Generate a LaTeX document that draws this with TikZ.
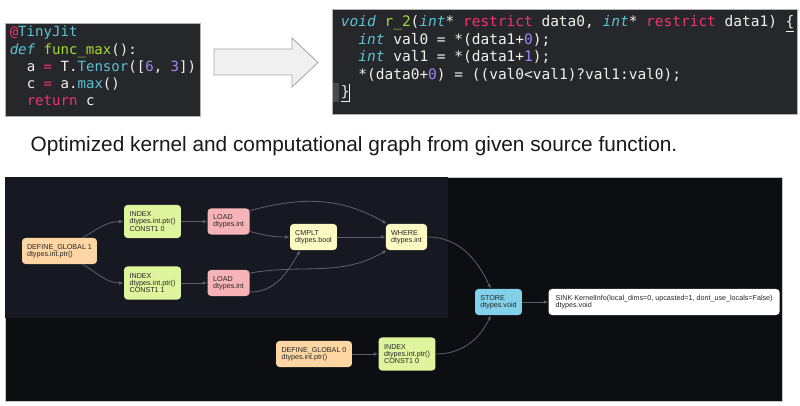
\documentclass[tikz,border=0pt]{standalone}
\usepackage{fontspec}
\setmainfont{Liberation Sans}
\newfontfamily\codefont{DejaVu Sans Mono}
\usepackage{xcolor}
\usepackage{tikz}
\usetikzlibrary{arrows.meta, positioning, calc}

\definecolor{codebg}{HTML}{26272B}
\definecolor{codefg}{HTML}{F2F2EC}
\definecolor{kwpink}{HTML}{F0336F}
\definecolor{tyteal}{HTML}{5BC3D3}
\definecolor{fngreen}{HTML}{A8D930}
\definecolor{numpurple}{HTML}{A484F5}
\definecolor{graphbg}{HTML}{0C0E12}
\definecolor{clusterbg}{HTML}{161921}
\definecolor{edgegray}{HTML}{5C5F68}
\definecolor{gpeach}{HTML}{FDD6A4}
\definecolor{glime}{HTML}{DEF59E}
\definecolor{grose}{HTML}{F6B4B8}
\definecolor{gcream}{HTML}{FCFAC2}
\definecolor{gsky}{HTML}{83D0EA}

\newcommand{\ckw}[1]{\textcolor{kwpink}{#1}}
\newcommand{\cty}[1]{\textcolor{tyteal}{\itshape #1}}
\newcommand{\cnm}[1]{\textcolor{tyteal}{#1}}
\newcommand{\cfn}[1]{\textcolor{fngreen}{#1}}
\newcommand{\cnum}[1]{\textcolor{numpurple}{#1}}

\begin{document}
\frenchspacing
\begin{tikzpicture}[
      x=0.025cm, y=-0.025cm,
      codeline/.style={anchor=base west, inner sep=0pt, text=codefg,
        font=\codefont\fontsize{#1}{12}\selectfont},
      codeline/.default=10,
      op/.style={rectangle, rounded corners=2.5pt, inner sep=0pt, align=left,
        text=black!85, font=\fontsize{5.1}{5.1}\selectfont},
      conn/.style={draw=edgegray, line width=0.6pt, -{Latex[length=3.2pt,width=2.6pt]}}
    ]
      \useasboundingbox (0,0) rectangle (800,406);

      % python source
      \filldraw[fill=codebg, draw=gray!60, line width=0.4pt] (5,23) rectangle (200,116);
      \node[codeline] (py1) at (9.5,37) {\ckw{@}\cnm{TinyJit}};
      \node[codeline] (py2) at (9.5,54.2) {\cty{def} \cfn{func\_max}():};
      \node[codeline] (py3) at (26.5,71.4) {a \ckw{=} T.\cnm{Tensor}([\cnum{6}, \cnum{3}])};
      \node[codeline] (py4) at (26.5,88.6) {c \ckw{=} a.\cnm{max}()};
      \node[codeline] (py5) at (26.5,105.8) {\ckw{return} c};

      % arrow
      \draw[fill=gray!12, draw=gray!70, line width=0.6pt]
        (214,49) -- (292,49) -- (292,38) -- (318,62.5) -- (292,87) -- (292,75) -- (214,75) -- cycle;

      % generated kernel
      \filldraw[fill=codebg, draw=gray!60, line width=0.4pt] (332.7,9) rectangle (797,114);
      \fill[gray!40!codebg] (333,83) rectangle (338.5,102);
      \node[codeline=10.3] (c1) at (340.7,27) {\cty{void} \cfn{r\_2}(\cty{int}* \ckw{restrict} data0, \cty{int}* \ckw{restrict} data1) \underline{\{}};
      \node[codeline=10.3] (c2) at (358.2,44.5) {\cty{int} val0 = *(data1+\cnum{0});};
      \node[codeline=10.3] (c3) at (358.2,62) {\cty{int} val1 = *(data1+\cnum{1});};
      \node[codeline=10.3] (c4) at (358.2,79.5) {*(data0+\cnum{0}) = ((val0<val1)?val1:val0);};
      \node[codeline=10.3] (c5) at (340.7,97) {\underline{\}}};
      \draw[codefg, line width=0.6pt] (349,84) -- (349,101);

      \node[anchor=base, text=black!90, font=\fontsize{14.8}{17}\selectfont] (caption) at (354,151.5)
        {Optimized kernel and computational graph from given source function.};

      % graph
      \filldraw[fill=graphbg, draw=gray!45, line width=0.4pt] (5,177) rectangle (782,401);
      \fill[clusterbg] (5.2,177.2) rectangle (448,318);

      \node[op, fill=gpeach, minimum width=53.3pt, minimum height=18.5pt] (dg1) at (59.5,251)
        {DEFINE\_GLOBAL 1\\dtypes.int.ptr()};
      \node[op, fill=glime, minimum width=40.5pt, minimum height=23.5pt] (idx0) at (152.5,221.5)
        {INDEX\\dtypes.int.ptr()\\CONST1 0};
      \node[op, fill=glime, minimum width=40.5pt, minimum height=23.5pt] (idx1) at (152.5,283)
        {INDEX\\dtypes.int.ptr()\\CONST1 1};
      \node[op, fill=grose, minimum width=29.9pt, minimum height=18.5pt, right=0.65cm of idx0] (ld0)
        {LOAD\\dtypes.int};
      \node[op, fill=grose, minimum width=29.9pt, minimum height=18.5pt, right=0.65cm of idx1] (ld1)
        {LOAD\\dtypes.int};
      \node[op, fill=gcream, minimum width=33.4pt, minimum height=18.5pt] (cmp) at (313.5,237)
        {CMPLT\\dtypes.bool};
      \node[op, fill=gcream, minimum width=29.2pt, minimum height=18.5pt] (wh) at (406.5,237)
        {WHERE\\dtypes.int};
      \node[op, fill=gpeach, minimum width=54pt, minimum height=18.5pt] (dg0) at (314,354)
        {DEFINE\_GLOBAL 0\\dtypes.int.ptr()};
      \node[op, fill=glime, minimum width=40.5pt, minimum height=23.5pt, right=0.65cm of dg0] (idx2)
        {INDEX\\dtypes.int.ptr()\\CONST1 0};
      \node[op, fill=gsky, minimum width=33.4pt, minimum height=18.5pt] (st) at (498.5,302)
        {STORE\\dtypes.void};
      \node[op, fill=white, minimum width=164.3pt, minimum height=18.5pt, right=0.65cm of st] (sk)
        {SINK KernelInfo(local\_dims=0, upcasted=1, dont\_use\_locals=False)\\dtypes.void};

      \draw[conn] (dg1.30) to[out=30, in=180] (idx0.west);
      \draw[conn] (dg1.-30) to[out=-30, in=180] (idx1.west);
      \draw[conn] (idx0) -- (ld0);
      \draw[conn] (idx1) -- (ld1);
      \draw[conn] (ld0.-25) to[out=-15, in=180] (cmp.west);
      \draw[conn] (ld0.27) to[out=15, in=150] (wh.146);
      \draw[conn] (ld1.-23) to[out=0, in=-120] (cmp.-135);
      \draw[conn] (ld1.25) to[out=10, in=-150] (wh.-146);
      \draw[conn] (cmp) -- (wh);
      \draw[conn] (wh.east) to[out=0, in=115] (st.120);
      \draw[conn] (idx2.east) to[out=0, in=-115] (st.-120);
      \draw[conn] (st) -- (sk);
      \draw[conn] (dg0) -- (idx2);
    \end{tikzpicture}
\end{document}
